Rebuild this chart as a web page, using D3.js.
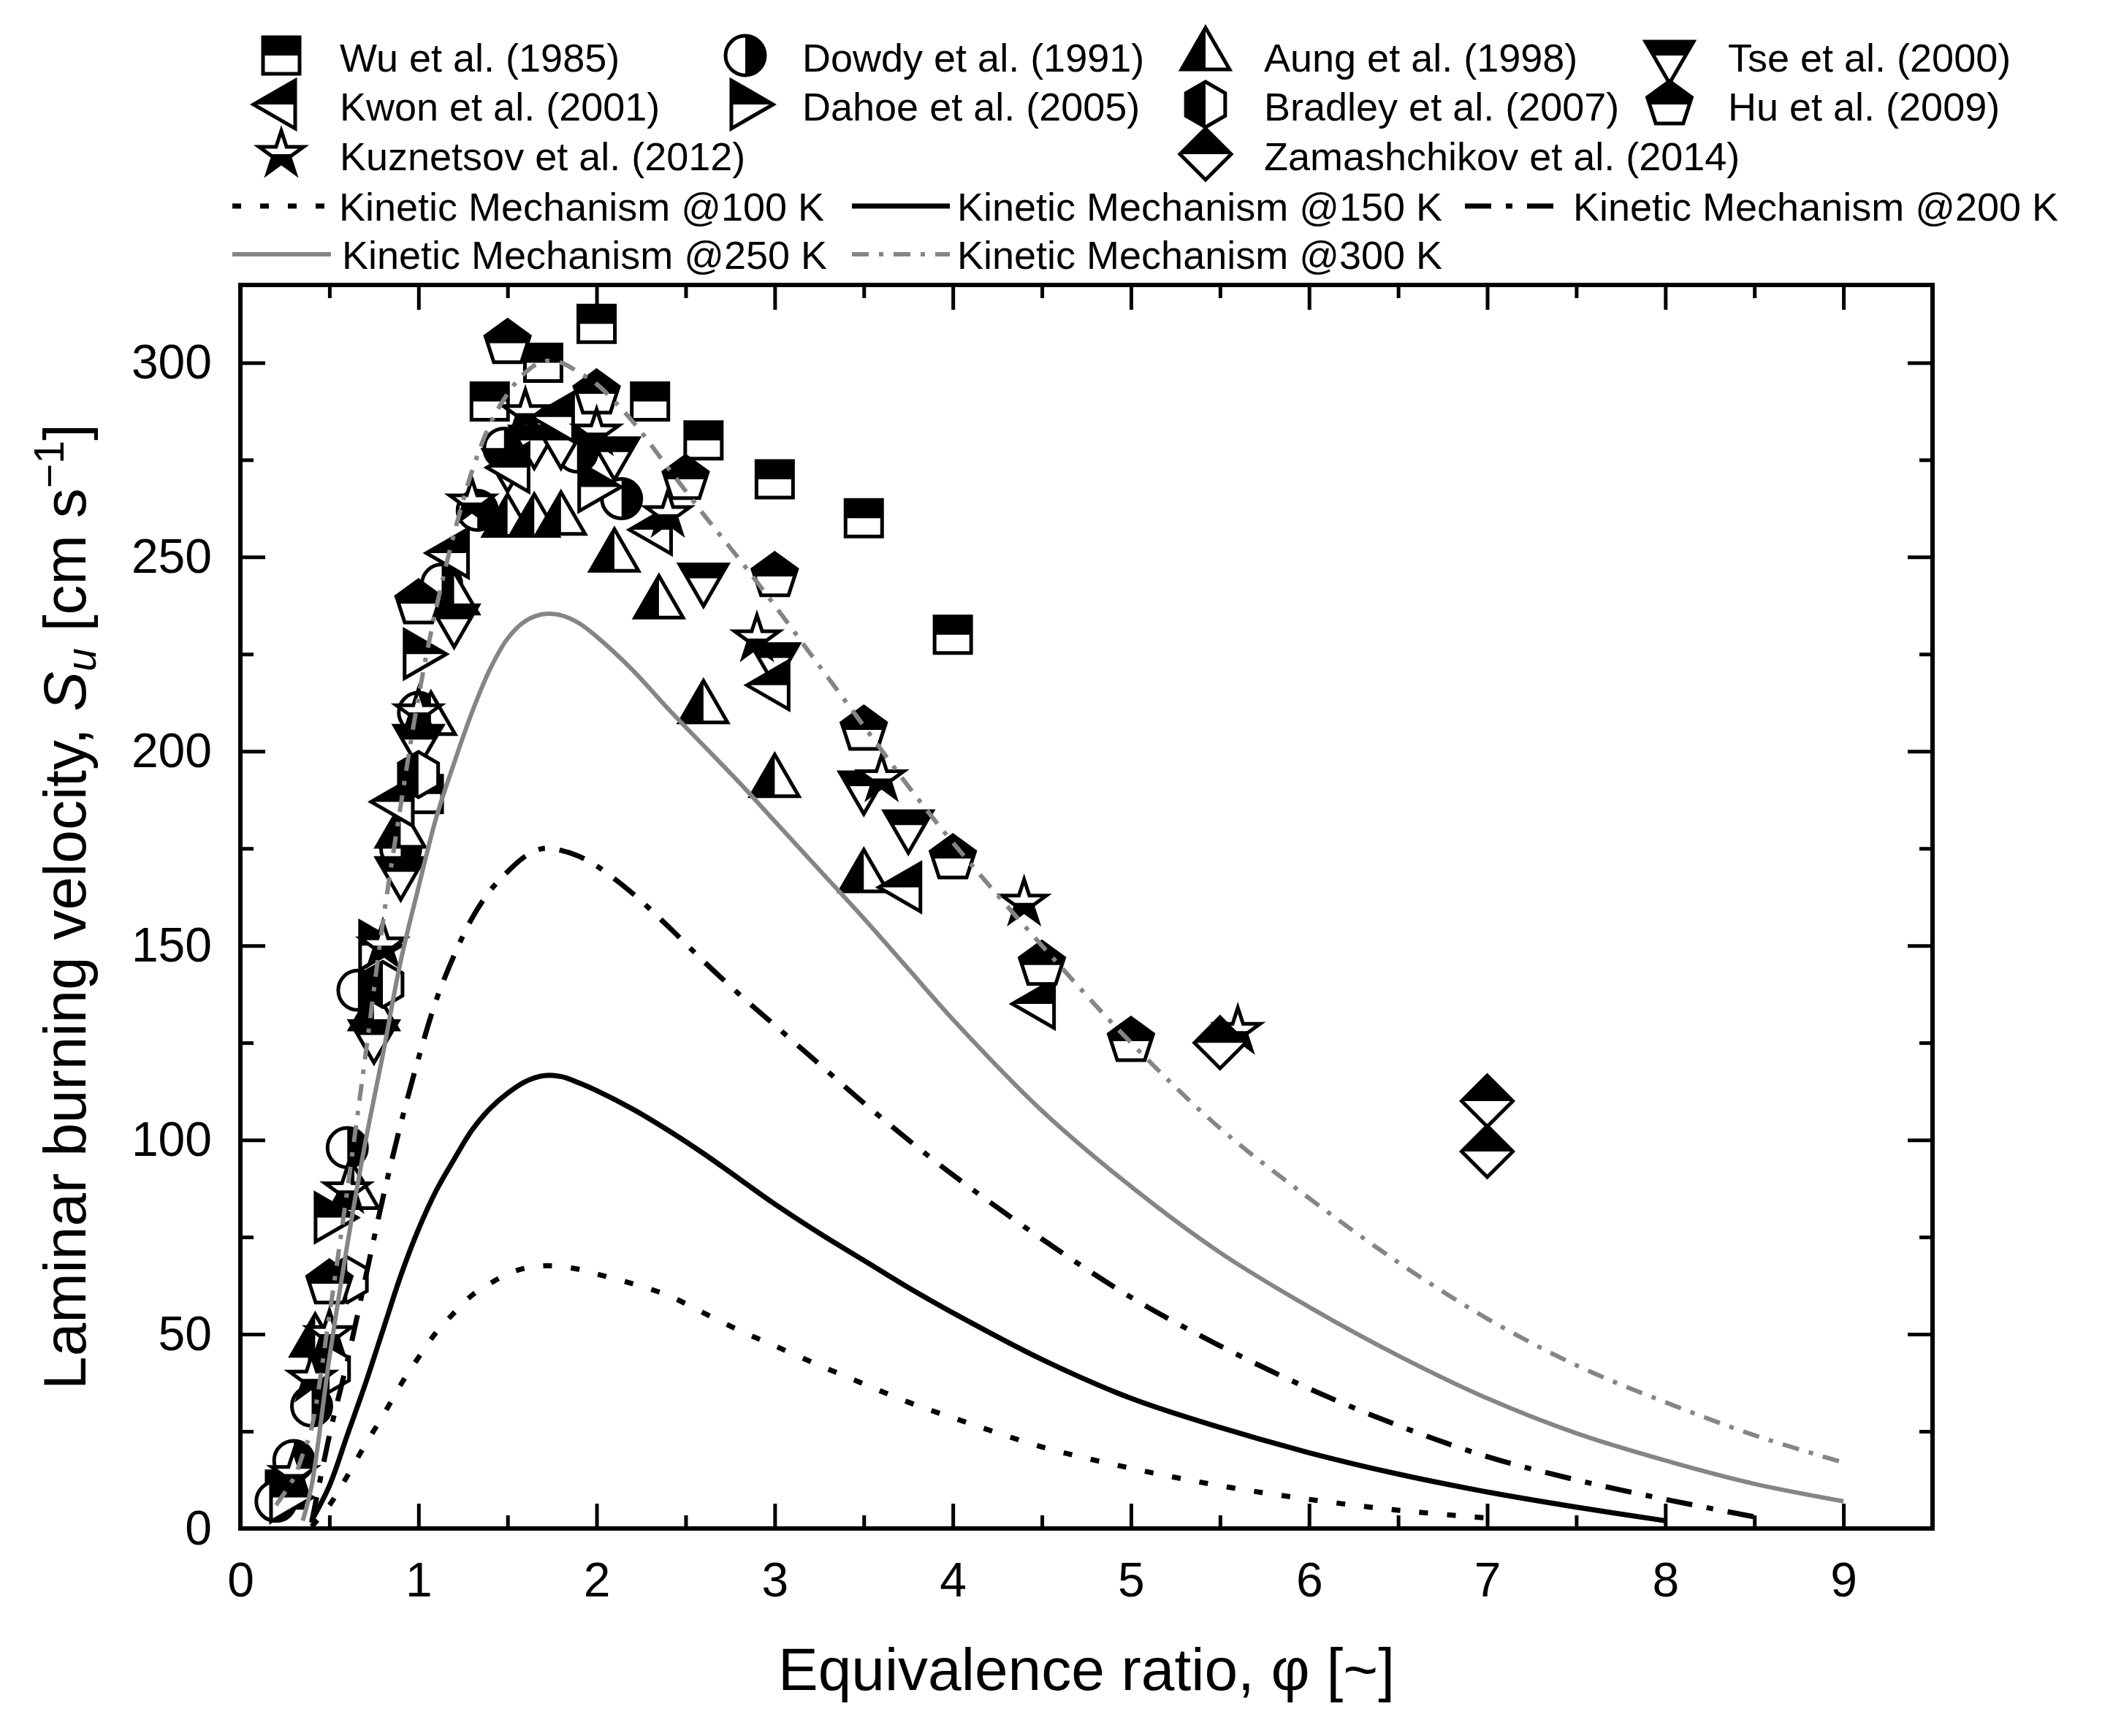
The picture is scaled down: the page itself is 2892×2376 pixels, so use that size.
<!DOCTYPE html>
<html><head><meta charset="utf-8">
<script src="https://cdn.jsdelivr.net/npm/d3@7"></script>
<style>
body{margin:0;background:#fff}
svg{display:block}
text{font-family:"Liberation Sans",Arial,Helvetica,sans-serif;fill:#000}
</style>
</head><body>
<svg id="chart" width="2892" height="2376"></svg>
<script>
// ---------------- DATA ----------------
const xTickValues = [0,1,2,3,4,5,6,7,8,9];
const xTickLabels = ["0","1","2","3","4","5","6","7","8","9"];
const yTickValues = [0,50,100,150,200,250,300];
const yTickLabels = ["0","50","100","150","200","250","300"];

// experimental series [phi, Su]
const wu      = [[0.25,10],[1.03,189],[1.4,290],[1.7,300],[2.0,310],[2.3,290],[2.6,280],[3.0,270],[3.5,260],[4.0,230]];
const dowdy   = [[0.2,7],[0.3,17.5],[0.4,31.5],[0.6,98],[0.66,138.5],[0.9,175],[1.0,210],[1.13,243],[1.33,262],[1.48,278],[1.89,277],[2.14,265]];
const aung    = [[0.42,48],[0.64,86],[0.75,132],[0.9,179],[1.07,208],[1.2,239],[1.5,259],[1.65,259],[1.8,259.5],[2.1,250],[2.35,238],[2.6,211],[3.0,192],[3.5,167.5]];
const tse     = [[0.75,127],[0.9,169],[1.0,203],[1.2,234],[1.5,274],[1.65,280],[1.8,280],[2.1,277],[2.6,244.5],[3.0,224],[3.5,191],[3.75,181]];
const kwon    = [[0.89,187],[1.2,251],[1.54,273],[1.79,286],[2.34,257],[3.0,217],[3.74,165],[4.49,135]];
const dahoe   = [[0.25,8],[0.5,80],[0.75,150],[1.0,225],[1.98,268]];
const bradley = [[0.5,41],[0.6,64],[0.8,140],[1.0,194]];
const hu      = [[0.5,63],[1.0,238],[1.5,305],[2.0,292],[2.5,270],[3.0,245],[3.5,205.5],[4.0,172.4],[4.5,145],[5.0,125.4]];
const kuznetsov = [[0.3,14],[0.4,38.5],[0.5,50],[0.6,87],[0.8,150],[1.0,210],[1.3,264],[1.6,287],[2.0,282],[2.4,261],[2.9,229],[3.6,193],[4.4,161],[5.6,128]];
const zamashchikov = [[5.5,125],[7.0,110],[7.0,97]];

// kinetic mechanism curves on a common phi grid (null = not computed)
const curvePhi = [0.2,0.3,0.35,0.4,0.5,0.6,0.7,0.8,0.9,1.0,1.1,1.2,1.3,1.4,1.5,1.6,1.7,1.8,1.9,2.0,2.2,2.4,2.6,2.8,3.0,3.25,3.5,3.75,4.0,4.5,5.0,5.5,6.0,6.5,7.0,7.5,8.0,8.5,9.0];
const km100 = [null,null,null,0.5,6,13.5,21.5,29,37,44,50.5,55.5,60,63,65.5,67,67.6,67.4,66.7,65.5,63,60,55.5,51,47,42,37.2,32.5,28.5,21,15.5,11,7.5,4.7,2.7,null,null,null,null];
const km150 = [null,null,null,2,11,24,37,51,65,77,87,95,102.5,108,112,115,116.5,116.3,114.7,112.7,108,102.5,96.5,90,83.5,76,69,62,55.5,43.5,33.5,26,19.5,14,9.4,5.5,2,null,null];
const km200 = [null,null,null,1.5,24,43,64,85,104,121,136,147.5,157,164,169,173,175,174.5,173,170.5,163.5,155,146,137.5,129.5,119.5,109.5,100,91,74.5,59.5,47,36,26.5,18.5,12.5,7.5,3,null];
const km250 = [null,null,2,11,44,73,99,122,146,165,183,197,210,221,229,233.5,235.3,235,233,229.5,221,211,201.5,192,182,169.5,157,144,131,107.5,88,71,57,44.5,33.5,24.5,17.5,11.5,7];
const km300 = [6,13,19,26,55,87,121,156,186,214,237,256,272,284,292,297.5,300.3,300,297.5,294.5,285,273,261,249.5,237.5,222,206.5,191,176.5,150,125,103,85,68.5,54,42,32.5,24,17];

const seriesNames = ["Wu et al. (1985)","Dowdy et al. (1991)","Aung et al. (1998)","Tse et al. (2000)",
  "Kwon et al. (2001)","Dahoe et al. (2005)","Bradley et al. (2007)","Hu et al. (2009)",
  "Kuznetsov et al. (2012)","Zamashchikov et al. (2014)"];
const curveNames = ["Kinetic Mechanism @100 K","Kinetic Mechanism @150 K","Kinetic Mechanism @200 K",
  "Kinetic Mechanism @250 K","Kinetic Mechanism @300 K"];

// ---------------- LAYOUT ----------------
const svg = d3.select("#chart");
const M = {left:329, right:2645, top:390, bottom:2092};
const x = d3.scaleLinear().domain([0,9.5]).range([M.left,M.right]);
const y = d3.scaleLinear().domain([0,320]).range([M.bottom,M.top]);
const FONT_TICK = 66, FONT_LEG = 54, FONT_TITLE = 82;
const GREY = "#858585";

const defs = svg.append("defs");
function clipRect(id, xx, yy, w, h){
  defs.append("clipPath").attr("id",id).append("rect").attr("x",xx).attr("y",yy).attr("width",w).attr("height",h);
}
const R3 = 38;   // triangle circumradius
const RS = 32;   // star
clipRect("cTop",-100,-100,200,100);
clipRect("cBottom",-100,0,200,100);
clipRect("cLeft",-100,-100,100,200);
clipRect("cRight",0,-100,100,200);

function polyPath(n, R, startDeg){
  const pts = d3.range(n).map(i=>{
    const a = (startDeg + i*360/n)*Math.PI/180;
    return [R*Math.cos(a), R*Math.sin(a)];
  });
  return "M" + pts.map(p=>p[0].toFixed(2)+","+p[1].toFixed(2)).join("L") + "Z";
}
function starPath(R){
  const r = R*0.382, pts=[];
  for(let i=0;i<10;i++){
    const a = (-90 + i*36)*Math.PI/180, rr = i%2===0?R:r;
    pts.push([rr*Math.cos(a), rr*Math.sin(a)]);
  }
  return "M" + pts.map(p=>p[0].toFixed(2)+","+p[1].toFixed(2)).join("L") + "Z";
}
const CR = 27;
const SHAPES = {
  square:   {d:"M-25,-25H25V25H-25Z", clip:"cTop"},
  circle:   {d:`M${CR},0A${CR},${CR} 0 1 1 ${-CR},0A${CR},${CR} 0 1 1 ${CR},0Z`, clip:"cRight"},
  up:       {d:polyPath(3,R3,-90), clip:"cLeft"},
  down:     {d:polyPath(3,R3,90), clip:"cTop"},
  left:     {d:polyPath(3,R3,180), clip:"cTop"},
  right:    {d:polyPath(3,R3,0), clip:"cTop"},
  hexagon:  {d:polyPath(6,31,-90), clip:"cLeft"},
  pentagon: {d:polyPath(5,32,-90), clip:"cTop"},
  star:     {d:starPath(RS), clip:"cBottom"},
  diamond:  {d:polyPath(4,35,-90), clip:"cTop"}
};
const seriesData = [wu,dowdy,aung,tse,kwon,dahoe,bradley,hu,kuznetsov,zamashchikov];
const seriesShape = ["square","circle","up","down","left","right","hexagon","pentagon","star","diamond"];

function drawMarker(parent, shape, cx, cy){
  const s = SHAPES[shape];
  const g = parent.append("g").attr("transform",`translate(${cx},${cy})`);
  g.append("path").attr("d",s.d).attr("fill","#fff");
  g.append("path").attr("d",s.d).attr("fill","#000").attr("clip-path",`url(#${s.clip})`);
  g.append("path").attr("d",s.d).attr("fill","none").attr("stroke","#000")
    .attr("stroke-width",5).attr("stroke-linejoin","miter").attr("stroke-miterlimit",4);
}

// ---------------- AXES ----------------
const xMinor = d3.range(0.5,9.5,1);
const yMinor = d3.range(25,320,50);

function styleAxis(g){
  g.select(".domain").remove();
  g.selectAll(".tick line").attr("stroke","#000").attr("stroke-width",5);
  g.selectAll(".tick text").attr("font-size",FONT_TICK).attr("font-family","'Liberation Sans',Arial,sans-serif").attr("fill","#000");
}
svg.append("g").attr("transform",`translate(0,${M.bottom})`)
  .call(d3.axisBottom(x).tickValues(xTickValues).tickSize(-34).tickPadding(46)
    .tickFormat((d,i)=>xTickLabels[i])).call(styleAxis);
svg.append("g").attr("transform",`translate(0,${M.bottom})`)
  .call(d3.axisBottom(x).tickValues(xMinor).tickSize(-18).tickFormat("")).call(styleAxis);
svg.append("g").attr("transform",`translate(0,${M.top})`)
  .call(d3.axisTop(x).tickValues(xTickValues).tickSize(-34).tickFormat("")).call(styleAxis);
svg.append("g").attr("transform",`translate(0,${M.top})`)
  .call(d3.axisTop(x).tickValues(xMinor).tickSize(-18).tickFormat("")).call(styleAxis);
svg.append("g").attr("transform",`translate(${M.left},0)`)
  .call(d3.axisLeft(y).tickValues(yTickValues).tickSize(-34).tickPadding(39)
    .tickFormat((d,i)=>yTickLabels[i])).call(styleAxis);
svg.append("g").attr("transform",`translate(${M.left},0)`)
  .call(d3.axisLeft(y).tickValues(yMinor).tickSize(-18).tickFormat("")).call(styleAxis);
svg.append("g").attr("transform",`translate(${M.right},0)`)
  .call(d3.axisRight(y).tickValues(yTickValues).tickSize(-34).tickFormat("")).call(styleAxis);
svg.append("g").attr("transform",`translate(${M.right},0)`)
  .call(d3.axisRight(y).tickValues(yMinor).tickSize(-18).tickFormat("")).call(styleAxis);

// ---------------- MARKERS ----------------
const plotG = svg.append("g");
seriesData.forEach((data,si)=>{
  const g = plotG.append("g").attr("class","series");
  data.forEach(d=>drawMarker(g, seriesShape[si], x(d[0]), y(d[1])));
});

// ---------------- CURVES ----------------
const curveVals = [km100,km150,km200,km250,km300];
const curveStyle = [
  {stroke:"#000", w:7, dash:"12 26"},
  {stroke:"#000", w:7, dash:null},
  {stroke:"#000", w:7, dash:"36 20 9 20"},
  {stroke:GREY,  w:6, dash:null},
  {stroke:GREY,  w:6, dash:"23 14 6 14"}
];
const line = d3.line().defined(d=>d[1]!=null).x(d=>x(d[0])).y(d=>y(d[1])).curve(d3.curveCatmullRom.alpha(0.5));
curveVals.forEach((vals,ci)=>{
  const pts = curvePhi.map((p,i)=>[p,vals[i]]);
  const st = curveStyle[ci];
  plotG.append("path").attr("d",line(pts)).attr("fill","none")
    .attr("stroke",st.stroke).attr("stroke-width",st.w)
    .attr("stroke-dasharray",st.dash).attr("stroke-linejoin","round");
});

// frame
svg.append("rect").attr("x",M.left).attr("y",M.top).attr("width",M.right-M.left).attr("height",M.bottom-M.top)
  .attr("fill","none").attr("stroke","#000").attr("stroke-width",6);

// ---------------- LEGEND ----------------
const leg = svg.append("g");
const symCols = [385,1020,1650,2285], txtCols = [465,1098,1730,2365];
const rowBase = [98,165,233,302,368];
const symPos = [[0,0],[1,0],[2,0],[3,0],[0,1],[1,1],[2,1],[3,1],[0,2],[2,2]];
seriesNames.forEach((name,i)=>{
  const [c,r] = symPos[i];
  drawMarker(leg, seriesShape[i], symCols[c], rowBase[r]-22);
  leg.append("text").attr("x",txtCols[c]).attr("y",rowBase[r]).attr("font-size",FONT_LEG).text(name);
});
const linePos = [[318,453,464,3],[1166,1300,1310,3],[2005,2138,2153,3],[318,453,468,4],[1166,1300,1310,4]];
curveNames.forEach((name,i)=>{
  const [x1,x2,tx,r] = linePos[i], st = curveStyle[i];
  const yy = rowBase[r]-20;
  leg.append("line").attr("x1",x1).attr("x2",x2).attr("y1",yy).attr("y2",yy)
    .attr("stroke",st.stroke).attr("stroke-width",st.w).attr("stroke-dasharray",st.dash);
  leg.append("text").attr("x",tx).attr("y",rowBase[r]).attr("font-size",FONT_LEG).text(name);
});

// ---------------- AXIS TITLES ----------------
svg.append("text").attr("x",(M.left+M.right)/2).attr("y",2313).attr("text-anchor","middle")
  .attr("font-size",FONT_TITLE).text("Equivalence ratio, φ [~]");

const yt = svg.append("text").attr("transform",`translate(117,${(M.top+M.bottom)/2}) rotate(-90)`)
  .attr("text-anchor","middle").attr("font-size",FONT_TITLE);
yt.append("tspan").text("Laminar burning velocity, ");
yt.append("tspan").attr("font-style","italic").text("S");
yt.append("tspan").attr("font-style","italic").attr("font-size",FONT_TITLE*0.7).attr("dy",14).text("u");
yt.append("tspan").attr("dy",-14).text(" [cm s");
yt.append("tspan").attr("font-size",FONT_TITLE*0.7).attr("dy",-30).text("−1");
yt.append("tspan").attr("dy",30).text("]");
</script>
</body></html>
